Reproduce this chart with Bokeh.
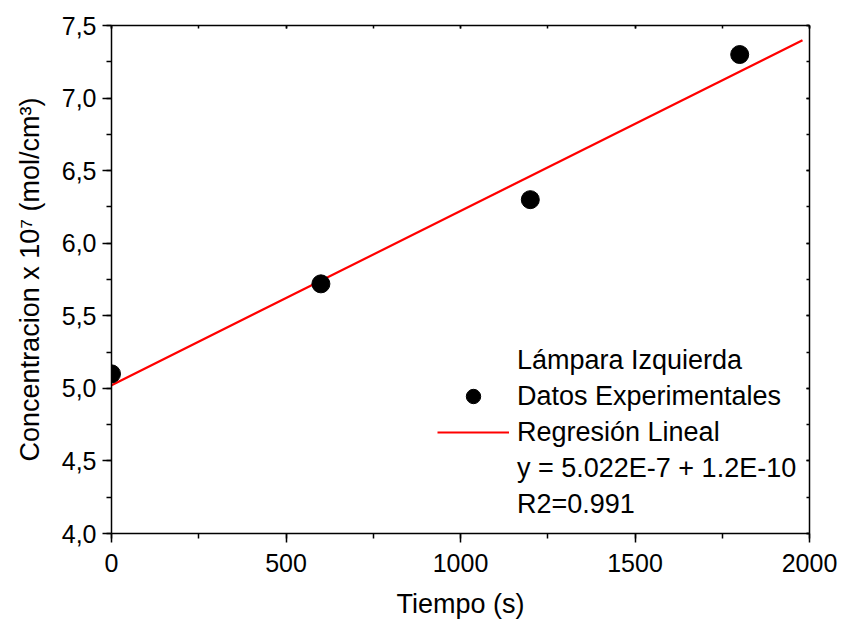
from bokeh.plotting import figure
from bokeh.models import (Range1d, LinearAxis, Legend, LegendItem, SingleIntervalTicker,
                          CustomJSTickFormatter)
from bokeh.embed import file_html
from bokeh.resources import INLINE

# data
tiempo = [0, 600, 1200, 1800]
concentracion = [5.10, 5.72, 6.30, 7.30]
fit_x = [0, 1980]
fit_y = [5.022, 7.398]
legend_title = "Lámpara Izquierda"
legend_points = "Datos Experimentales"
legend_fit = "Regresión Lineal"
legend_eq = "y = 5.022E-7 + 1.2E-10"
legend_r2 = "R2=0.991"

FONT = "Liberation Sans"

p = figure(width=844, height=624, output_backend="svg", toolbar_location=None,
           x_range=Range1d(0, 2000), y_range=Range1d(4.0, 7.5),
           min_border_left=111, min_border_right=35, min_border_top=25, min_border_bottom=91)
p.outline_line_color = None
p.grid.visible = False
p.background_fill_color = "white"
p.border_fill_color = "white"

fit_r = p.line(fit_x, fit_y, line_color="#ff0000", line_width=2.2)
pts_r = p.scatter(tiempo, concentracion, size=18, marker="circle", fill_color="black", line_color="black")
blank_r = p.scatter([], [], size=1, fill_alpha=0, line_alpha=0)

def style_axis(ax, labels=True):
    ax.axis_line_color = "black"
    ax.axis_line_width = 1.5
    ax.major_tick_line_color = "black"
    ax.minor_tick_line_color = "black"
    ax.major_tick_line_width = 1.5
    ax.minor_tick_line_width = 1.5
    ax.major_label_text_font = FONT
    ax.major_label_text_font_size = "25px"
    ax.major_label_text_color = "black"
    ax.axis_label_text_font = FONT
    ax.axis_label_text_font_size = "27px"
    ax.axis_label_text_font_style = "normal"
    ax.axis_label_text_color = "black"
    if labels:
        ax.major_tick_out = 9
        ax.major_tick_in = 0
        ax.minor_tick_out = 5
        ax.minor_tick_in = 0
    else:
        ax.major_tick_out = 0
        ax.major_tick_in = 3
        ax.minor_tick_out = 0
        ax.minor_tick_in = 3
        ax.major_label_text_font_size = "0px"
        ax.major_label_text_alpha = 0

xt = SingleIntervalTicker(interval=500, num_minor_ticks=2)
yt = SingleIntervalTicker(interval=0.5, num_minor_ticks=2)
yfmt = CustomJSTickFormatter(code="return tick.toFixed(1).replace('.', ',');")

p.xaxis.ticker = xt
p.yaxis.ticker = yt
p.yaxis.formatter = yfmt
p.xaxis.axis_label = "Tiempo (s)"
p.yaxis.axis_label = "Concentracion x 10\u2077 (mol/cm\u00b3)"
style_axis(p.xaxis[0])
style_axis(p.yaxis[0])
p.xaxis.major_label_standoff = 11
p.xaxis.axis_label_standoff = 14
p.yaxis.major_label_standoff = 6
p.yaxis.axis_label_standoff = 14

top = LinearAxis(ticker=SingleIntervalTicker(interval=500, num_minor_ticks=2))
right = LinearAxis(ticker=SingleIntervalTicker(interval=0.5, num_minor_ticks=2))
style_axis(top, labels=False)
style_axis(right, labels=False)
p.add_layout(top, "above")
p.add_layout(right, "right")

legend = Legend(items=[
    LegendItem(label=legend_title, renderers=[blank_r]),
    LegendItem(label=legend_points, renderers=[pts_r]),
    LegendItem(label=legend_fit, renderers=[fit_r]),
    LegendItem(label=legend_eq, renderers=[blank_r]),
    LegendItem(label=legend_r2, renderers=[blank_r]),
], location=(326, 11))
legend.label_text_font = FONT
legend.label_text_font_size = "27px"
legend.label_text_color = "black"
legend.glyph_width = 72
legend.glyph_height = 36
legend.label_height = 36
legend.label_standoff = 8
legend.spacing = 0
legend.padding = 0
legend.margin = 0
legend.border_line_alpha = 0
legend.background_fill_alpha = 0
p.add_layout(legend)

open("out.html", "w").write(file_html(p, INLINE))
